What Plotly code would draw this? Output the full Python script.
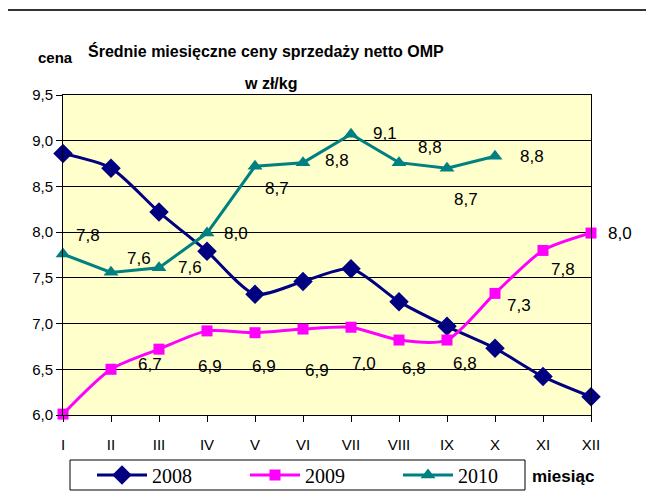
import plotly.graph_objects as go

months = ["I", "II", "III", "IV", "V", "VI", "VII", "VIII", "IX", "X", "XI", "XII"]
y2008 = [8.86, 8.70, 8.22, 7.79, 7.32, 7.46, 7.60, 7.24, 6.97, 6.73, 6.42, 6.20]
y2009 = [6.01, 6.50, 6.72, 6.92, 6.90, 6.94, 6.96, 6.82, 6.82, 7.33, 7.80, 7.99]
y2010 = [7.76, 7.56, 7.61, 7.99, 8.72, 8.76, 9.07, 8.76, 8.70, 8.83]
yticks = [6.0, 6.5, 7.0, 7.5, 8.0, 8.5, 9.0, 9.5]

# label offsets (pixels) for data labels: (dx, dy) with dy positive downward
off2010 = [(25, -19), (28, -14), (31, 0), (29, 0), (22, 22), (34, -2), (34, -1), (31, -15), (19, 31), (37, 0)]
off2009 = {2: (-9, 15), 3: (3, 36), 4: (9, 34), 5: (14, 41), 6: (13, 36), 7: (15, 28), 8: (18, 23),
           9: (24, 12), 10: (20, 19), 11: (29, 0)}

SANS = "Liberation Sans, Arial, sans-serif"
SERIF = "Liberation Serif, Times New Roman, serif"

fig = go.Figure()
fig.add_trace(go.Scatter(x=months, y=y2008, name="2008", mode="lines+markers",
                         line=dict(color="#000080", width=3, shape="spline", smoothing=0.7),
                         marker=dict(symbol="diamond", size=15, color="#000080"),
                         cliponaxis=False))
fig.add_trace(go.Scatter(x=months, y=y2009, name="2009", mode="lines+markers",
                         line=dict(color="#FF00FF", width=3, shape="spline", smoothing=0.7),
                         marker=dict(symbol="square", size=11, color="#FF00FF"),
                         cliponaxis=False))
fig.add_trace(go.Scatter(x=months[:len(y2010)], y=y2010, name="2010", mode="lines+markers",
                         line=dict(color="#008080", width=3),
                         marker=dict(symbol="triangle-up", size=13, color="#008080"),
                         cliponaxis=False))

def fmt(v):
    return f"{v:.1f}".replace(".", ",")

ann = []
for i, v in enumerate(y2010):
    dx, dy = off2010[i]
    ann.append(dict(x=months[i], y=v, xref="x", yref="y", text=fmt(v), showarrow=False,
                    xshift=dx, yshift=-dy, font=dict(family=SANS, size=17, color="black")))
for i, (dx, dy) in off2009.items():
    ann.append(dict(x=months[i], y=y2009[i], xref="x", yref="y", text=fmt(y2009[i]), showarrow=False,
                    xshift=dx, yshift=-dy, font=dict(family=SANS, size=17, color="black")))

# reference-picture pixel geometry of the plot area
L, R, T, B = 63, 591, 95, 415
W, H = R - L, B - T
OFF = 8  # page body margin
FW, FH = 654 - OFF, 498 - OFF

def px(x):
    return (x - L) / W
def py(y):
    return (B - y) / H

ann += [
    dict(x=px(266), y=py(40), xref="paper", yref="paper", text="<b>Średnie miesięczne ceny sprzedaży netto OMP</b>",
         showarrow=False, font=dict(family=SANS, size=16, color="black")),
    dict(x=px(270), y=py(73), xref="paper", yref="paper", text="<b>w zł/kg</b>",
         showarrow=False, font=dict(family=SANS, size=16, color="black")),
    dict(x=px(36), y=py(47), xref="paper", yref="paper", text="<b>cena</b>",
         showarrow=False, font=dict(family=SANS, size=15, color="black")),
    dict(x=px(596), y=py(488), xref="paper", yref="paper", text="<b>miesiąc</b>",
         showarrow=False, font=dict(family=SANS, size=17, color="black")),
]

shapes = [
    dict(type="rect", xref="paper", yref="paper", x0=px(6), x1=px(720), y0=py(560), y1=py(10),
         line=dict(color="#333333", width=2), fillcolor="rgba(0,0,0,0)", layer="below"),
    dict(type="rect", xref="paper", yref="paper", x0=px(70), x1=px(525), y0=py(490), y1=py(460),
         line=dict(color="black", width=1), fillcolor="white", layer="below"),
]

fig.update_layout(
    width=FW, height=FH,
    margin=dict(l=L - OFF, r=FW - (R - OFF), t=T - OFF, b=FH - (B - OFF), autoexpand=False),
    paper_bgcolor="white", plot_bgcolor="#FFFFCC",
    separators=", ",
    font=dict(family=SANS, size=15, color="black"),
    showlegend=True,
    legend=dict(orientation="h", x=px(92), y=py(475), xanchor="left", yanchor="middle",
                font=dict(family=SERIF, size=20, color="black"), bgcolor="rgba(0,0,0,0)",
                entrywidth=88, itemwidth=50),
    annotations=ann, shapes=shapes,
    xaxis=dict(type="category", range=[0, 11], showgrid=False, showline=True, linecolor="black",
               linewidth=1, mirror=True, ticks="outside", ticklen=6, tickcolor="black",
               ticklabelstandoff=10, tickfont=dict(family=SANS, size=15), zeroline=False),
    yaxis=dict(range=[6.0, 9.5], tickvals=yticks, tickformat=".1f", showgrid=True, gridcolor="black",
               gridwidth=1, showline=True, linecolor="black", linewidth=1, mirror=True,
               ticks="outside", ticklen=6, tickcolor="black", tickfont=dict(family=SANS, size=15),
               zeroline=False),
)

fig.write_html("out.html")
